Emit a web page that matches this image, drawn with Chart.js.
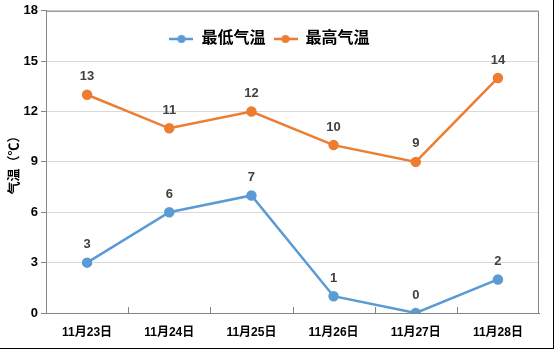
<!DOCTYPE html>
<html>
<head>
<meta charset="utf-8">
<script src="https://cdn.jsdelivr.net/npm/chart.js@4"></script>
<style>
  html, body { margin: 0; padding: 0; background: #fff; }
  #wrap { width: 553px; height: 348px; border-right: 1px solid #000; border-bottom: 1px solid #000; }
</style>
</head>
<body>
<div id="wrap"><canvas id="tempChart" width="553" height="348"></canvas></div>
<script>
// chart data
const days = ['11月23日', '11月24日', '11月25日', '11月26日', '11月27日', '11月28日'];
const lowTemps = [3, 6, 7, 1, 0, 2];
const highTemps = [13, 11, 12, 10, 9, 14];
const yTicks = [0, 3, 6, 9, 12, 15, 18];

const FONT = '"Liberation Sans", "Noto Sans CJK SC", sans-serif';

// legend marker: short line with a dot in the middle
function legendMarker(color) {
    const c = document.createElement('canvas');
    c.width = 24;
    c.height = 10;
    const g = c.getContext('2d');
    g.strokeStyle = color;
    g.lineWidth = 2.5;
    g.beginPath();
    g.moveTo(0, 5);
    g.lineTo(24, 5);
    g.stroke();
    g.fillStyle = color;
    g.beginPath();
    g.arc(12, 5, 4, 0, Math.PI * 2);
    g.fill();
    return c;
}

// legend sits inside the plot, so it should not take any layout space
const legendInside = {
    id: 'legendInside',
    beforeLayout(chart) {
        const lg = chart.legend;
        if (!lg || lg._patched) return;
        const fit = lg.fit;
        lg.fit = function () {
            fit.call(this);
            this._realHeight = this.height;
            this.height = 0;
        };
        lg._patched = true;
    },
    afterLayout(chart) {
        const lg = chart.legend;
        lg.top = 23;
        lg.bottom = lg.top + (lg._realHeight || 0);
    }
};

// value labels above each point
const valueLabels = {
    id: 'valueLabels',
    afterDatasetsDraw(chart) {
        const ctx = chart.ctx;
        ctx.save();
        ctx.font = 'bold 13px ' + FONT;
        ctx.fillStyle = '#404040';
        ctx.textAlign = 'center';
        ctx.textBaseline = 'middle';
        chart.data.datasets.forEach((ds, i) => {
            chart.getDatasetMeta(i).data.forEach((pt, j) => {
                ctx.fillText(ds.data[j], pt.x, pt.y - 18);
            });
        });
        ctx.restore();
    }
};

// plot frame (top/right) and inward category tick marks
const plotFrame = {
    id: 'plotFrame',
    afterDraw(chart) {
        const a = chart.chartArea;
        const ctx = chart.ctx;
        ctx.save();
        ctx.strokeStyle = '#868686';
        ctx.lineWidth = 1;
        ctx.beginPath();
        ctx.moveTo(a.left, a.top + 0.5);
        ctx.lineTo(a.right - 0.5, a.top + 0.5);
        ctx.lineTo(a.right - 0.5, a.bottom);
        const n = days.length;
        for (let i = 1; i < n; i++) {
            const x = Math.round(a.left + i * (a.right - a.left) / n) + 0.5;
            ctx.moveTo(x, a.bottom - 6);
            ctx.lineTo(x, a.bottom);
        }
        ctx.stroke();
        ctx.restore();
    }
};

new Chart(document.getElementById('tempChart'), {
    type: 'line',
    data: {
        labels: days,
        datasets: [{
            label: '最低气温',
            data: lowTemps,
            borderColor: '#5B9BD5',
            backgroundColor: '#5B9BD5',
            borderWidth: 2.5,
            pointRadius: 4,
            pointHoverRadius: 4,
            tension: 0
        }, {
            label: '最高气温',
            data: highTemps,
            borderColor: '#ED7D31',
            backgroundColor: '#ED7D31',
            borderWidth: 2.5,
            pointRadius: 4,
            pointHoverRadius: 4,
            tension: 0
        }]
    },
    options: {
        responsive: false,
        animation: false,
        layout: { padding: { top: 10, right: 14, left: 0, bottom: 0 } },
        plugins: {
            tooltip: { enabled: false },
            legend: {
                position: 'top',
                align: 'center',
                labels: {
                    usePointStyle: true,
                    pointStyleWidth: 24,
                    padding: 8,
                    color: '#000',
                    font: { family: FONT, size: 16, weight: 'bold' },
                    generateLabels(chart) {
                        return chart.data.datasets.map((ds, i) => ({
                            text: ds.label,
                            pointStyle: legendMarker(ds.borderColor),
                            fillStyle: ds.borderColor,
                            strokeStyle: ds.borderColor,
                            lineWidth: 0,
                            hidden: false,
                            datasetIndex: i
                        }));
                    }
                }
            }
        },
        scales: {
            x: {
                offset: true,
                afterFit: s => { s.height = 35; },
                border: { color: '#868686', width: 1 },
                grid: { display: false },
                ticks: {
                    color: '#000',
                    padding: 4,
                    maxRotation: 0,
                    font: { family: FONT, size: 12, weight: 'bold' }
                }
            },
            y: {
                min: 0,
                max: 18,
                afterFit: s => { s.width = 46; },
                afterBuildTicks: s => { s.ticks = yTicks.map(v => ({ value: v })); },
                border: { color: '#868686', width: 1 },
                grid: { color: '#d9d9d9', tickColor: '#868686', tickLength: 5 },
                ticks: {
                    color: '#000',
                    padding: 3,
                    font: { family: FONT, size: 13, weight: 'bold' }
                },
                title: {
                    display: true,
                    text: '气温（℃）',
                    color: '#000',
                    padding: { top: 5, bottom: 0 },
                    font: { family: '"Noto Sans CJK SC", sans-serif', size: 13, weight: 'bold' }
                }
            }
        }
    },
    plugins: [legendInside, valueLabels, plotFrame]
});
</script>
</body>
</html>
